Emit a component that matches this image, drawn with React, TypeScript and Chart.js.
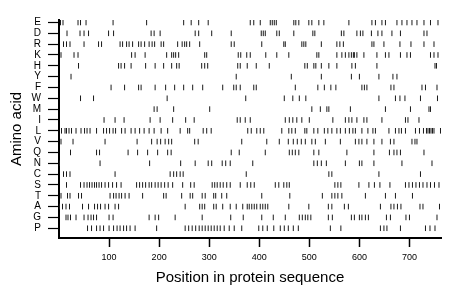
import React, { useEffect, useRef } from 'react';
import { Chart, registerables } from 'chart.js';

Chart.register(...registerables);

const FONT = "'Liberation Sans', Arial, Helvetica, sans-serif";

// Rows from top to bottom
const AMINO_ACIDS = ['E', 'D', 'R', 'K', 'H', 'Y', 'F', 'W', 'M', 'I', 'L', 'V', 'Q', 'N', 'C', 'S', 'T', 'A', 'G', 'P'];
const X_TICKS = [100, 200, 300, 400, 500, 600, 700];
const SEQ_LENGTH = 763;

const E_POS = [3, 8, 38, 43, 54, 108, 175, 249, 264, 279, 298, 382, 389, 402, 422, 426, 430, 434, 469, 473, 479, 499, 505, 519, 529, 579, 625, 632, 645, 652, 675, 685, 695, 705, 715, 729, 742, 757];
const D_POS = [16, 42, 50, 59, 99, 109, 184, 190, 202, 272, 279, 305, 344, 404, 408, 412, 435, 440, 469, 507, 511, 564, 569, 595, 602, 607, 624, 637, 645, 665, 682, 729, 735];
const R_POS = [9, 15, 22, 50, 79, 85, 122, 127, 135, 140, 147, 159, 164, 171, 180, 186, 191, 204, 209, 237, 246, 251, 255, 261, 281, 344, 350, 405, 449, 452, 485, 489, 493, 524, 555, 561, 568, 625, 629, 649, 681, 703, 729, 749];
const K_POS = [4, 30, 38, 145, 152, 172, 215, 225, 229, 233, 239, 291, 295, 358, 363, 375, 382, 413, 435, 459, 515, 519, 555, 565, 572, 579, 584, 588, 590, 595, 609, 635, 652, 659, 682, 695, 702, 742, 749, 757];
const H_POS = [39, 119, 124, 131, 144, 173, 192, 209, 225, 235, 240, 285, 291, 297, 357, 362, 376, 394, 420, 491, 496, 509, 513, 524, 539, 555, 585, 592, 635, 751, 754];
const Y_POS = [24, 354, 464, 524, 584, 600, 639, 667, 675];
const F_POS = [104, 131, 159, 164, 192, 213, 231, 249, 267, 287, 327, 349, 354, 362, 389, 394, 472, 517, 530, 543, 553, 605, 610, 615, 663, 669, 725, 732, 755];
const W_POS = [43, 69, 216, 373, 450, 467, 480, 493, 639, 672, 681, 691, 722, 756];
const M_POS = [190, 196, 229, 301, 505, 522, 535, 539, 582, 652, 702, 739, 742];
const I_POS = [90, 112, 130, 182, 202, 227, 253, 270, 356, 362, 372, 382, 452, 460, 467, 475, 485, 500, 547, 572, 579, 585, 595, 609, 615, 645, 692, 697, 719];
const L_POS = [5, 12, 15, 20, 25, 34, 44, 51, 56, 62, 75, 89, 95, 101, 108, 113, 125, 132, 144, 152, 161, 170, 180, 190, 204, 217, 242, 257, 261, 288, 295, 304, 377, 384, 395, 402, 409, 445, 459, 465, 472, 491, 495, 509, 517, 530, 537, 545, 555, 562, 572, 580, 587, 592, 605, 617, 627, 632, 659, 672, 679, 684, 692, 712, 720, 728, 734, 737, 740, 743, 746, 749, 762];
const V_POS = [4, 28, 92, 156, 185, 196, 203, 212, 219, 225, 271, 278, 365, 415, 440, 458, 468, 476, 484, 492, 505, 512, 532, 562, 592, 599, 605, 615, 629, 645, 662, 669, 705, 711, 715];
const Q_POS = [23, 75, 81, 138, 157, 177, 197, 217, 224, 344, 360, 412, 460, 466, 472, 479, 509, 519, 575, 629, 660, 669, 675, 682, 729];
const N_POS = [1, 82, 181, 243, 272, 298, 305, 326, 333, 342, 387, 509, 516, 524, 534, 572, 600, 605, 629, 685, 745];
const C_POS = [9, 15, 22, 112, 222, 229, 235, 242, 248, 374, 539, 545, 639, 722];
const S_POS = [15, 43, 50, 56, 61, 66, 71, 75, 80, 85, 92, 99, 107, 115, 124, 155, 161, 167, 173, 180, 185, 192, 198, 204, 211, 218, 227, 247, 263, 270, 306, 311, 316, 322, 328, 335, 342, 362, 376, 383, 390, 432, 439, 449, 455, 460, 551, 557, 563, 599, 619, 630, 641, 661, 692, 699, 706, 713, 720, 727, 735, 742, 750, 759];
const T_POS = [4, 17, 22, 39, 45, 102, 109, 114, 120, 125, 132, 140, 167, 209, 214, 245, 262, 267, 286, 292, 309, 313, 325, 335, 405, 461, 526, 545, 551, 557, 565, 612, 652, 672, 706];
const A_POS = [1, 7, 14, 21, 47, 59, 71, 77, 83, 92, 99, 112, 119, 252, 281, 286, 291, 309, 314, 327, 342, 354, 367, 376, 380, 385, 390, 395, 402, 407, 412, 417, 459, 499, 538, 545, 570, 578, 642, 663, 669, 676, 683, 721, 727, 760];
const G_POS = [14, 18, 23, 34, 50, 58, 64, 69, 75, 100, 108, 180, 192, 199, 232, 286, 343, 368, 405, 428, 452, 480, 486, 492, 497, 503, 538, 546, 584, 590, 600, 605, 612, 618, 654, 662, 693, 700, 755];
const P_POS = [57, 65, 75, 82, 89, 100, 109, 116, 122, 129, 135, 142, 152, 195, 252, 259, 266, 273, 280, 286, 292, 298, 304, 310, 316, 322, 330, 340, 350, 365, 399, 407, 416, 429, 442, 450, 458, 468, 478, 542, 563, 642, 649, 655, 682, 732, 741, 751];

const POSITIONS: number[][] = [E_POS, D_POS, R_POS, K_POS, H_POS, Y_POS, F_POS, W_POS, M_POS, I_POS, L_POS, V_POS, Q_POS, N_POS, C_POS, S_POS, T_POS, A_POS, G_POS, P_POS];

export default function App() {
  const canvasRef = useRef<HTMLCanvasElement | null>(null);

  useEffect(() => {
    const canvas = canvasRef.current;
    if (!canvas) return;
    const n = AMINO_ACIDS.length;
    const datasets = AMINO_ACIDS.map((aa, i) => ({
      label: aa,
      data: POSITIONS[i].map((x) => ({ x, y: n - 1 - i })),
      pointStyle: 'line' as const,
      rotation: 90,
      radius: 2.8,
      hoverRadius: 2.8,
      borderWidth: 1,
      borderColor: '#1a1a1a',
      backgroundColor: '#1a1a1a',
      showLine: false,
    }));

    const chart = new Chart(canvas, {
      type: 'scatter',
      data: { datasets },
      options: {
        responsive: false,
        animation: false,
        events: [],
        layout: { padding: { top: 20, right: 19, bottom: 0, left: 0 } },
        plugins: {
          legend: { display: false },
          tooltip: { enabled: false },
        },
        scales: {
          x: {
            type: 'linear',
            min: 0,
            max: SEQ_LENGTH,
            afterBuildTicks: (s: any) => {
              s.ticks = X_TICKS.map((v) => ({ value: v }));
            },
            afterFit: (s: any) => {
              s.height = 61;
            },
            grid: {
              drawOnChartArea: false,
              drawTicks: true,
              tickLength: 9,
              tickWidth: 1.5,
              color: '#000',
            },
            border: { display: true, color: '#000', width: 2 },
            ticks: {
              color: '#000',
              padding: 5,
              maxRotation: 0,
              autoSkip: false,
              font: { family: FONT, size: 9 },
            },
            title: {
              display: true,
              text: 'Position in protein sequence',
              color: '#000',
              font: { family: FONT, size: 15 },
              padding: { top: 0, bottom: 12 },
            },
          },
          y: {
            type: 'linear',
            min: -0.9,
            max: 19.23,
            afterBuildTicks: (s: any) => {
              s.ticks = AMINO_ACIDS.map((_, i) => ({ value: i }));
            },
            afterFit: (s: any) => {
              s.width = 59;
            },
            grid: {
              drawOnChartArea: false,
              drawTicks: true,
              tickLength: 11,
              tickWidth: 1.2,
              color: '#000',
            },
            border: { display: true, color: '#000', width: 2 },
            ticks: {
              color: '#000',
              padding: 7,
              autoSkip: false,
              font: { family: FONT, size: 10 },
              callback: (v: any) => AMINO_ACIDS[n - 1 - Number(v)],
            },
            title: {
              display: true,
              text: 'Amino acid',
              color: '#000',
              font: { family: FONT, size: 15 },
              padding: { top: 8, bottom: 0 },
            },
          },
        },
      },
    });

    return () => chart.destroy();
  }, []);

  return (
    <div style={{ position: 'absolute', left: 0, top: 0, width: 460, height: 299, background: '#fff' }}>
      <canvas ref={canvasRef} width={460} height={299} style={{ display: 'block' }} />
    </div>
  );
}
